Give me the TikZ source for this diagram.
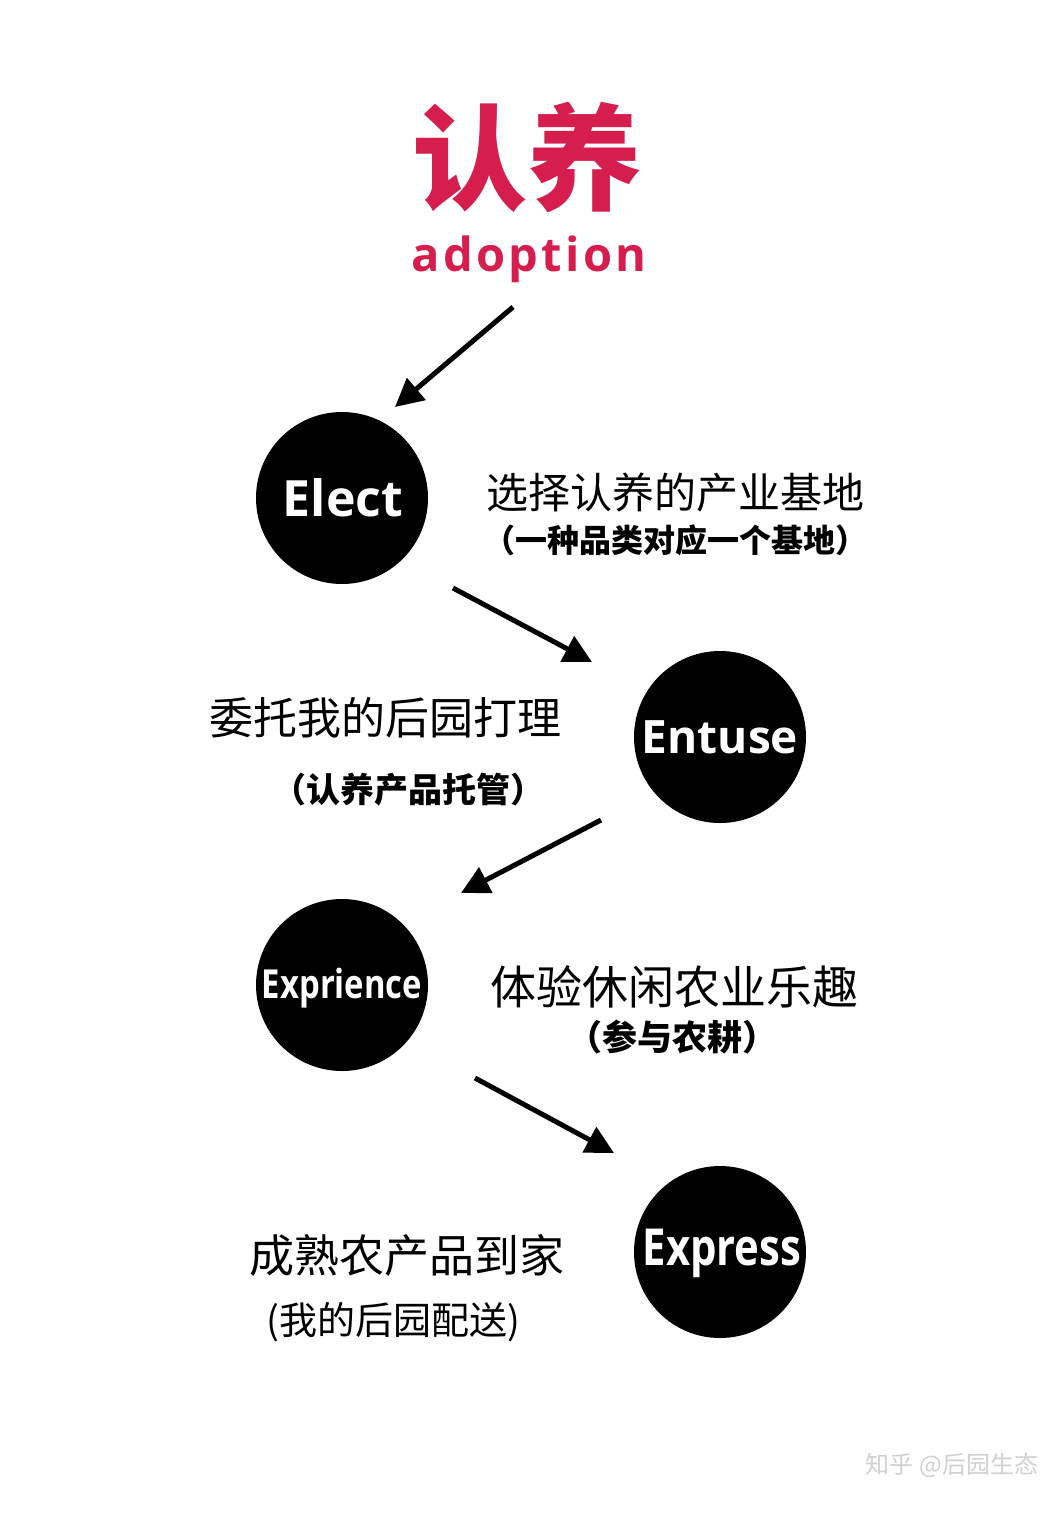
\documentclass[tikz,border=0pt]{standalone}
\usepackage{fontspec}
\usetikzlibrary{arrows.meta}
\newfontfamily\cjk{Noto Sans CJK SC}
\newfontfamily\latinbold{Open Sans}
\newfontfamily\latinspaced[LetterSpace=7]{Open Sans}
\newfontfamily\latincond[FakeStretch=0.82]{Open Sans}
\definecolor{titlered}{RGB}{214,30,78}
\tikzset{
  stepcircle/.style={circle, fill=black, minimum size=172pt, inner sep=0pt},
  circlabel/.style={text=white, font=\latinbold\bfseries\fontsize{#1}{#1}\selectfont},
  circlabelc/.style={text=white, font=\latincond\bfseries\fontsize{#1}{#1}\selectfont},
  mainline/.style={font=\cjk\fontsize{#1}{#1}\selectfont, inner sep=0pt},
  subline/.style={font=\cjk\bfseries\fontsize{#1}{#1}\selectfont, inner sep=0pt},
  flowarrow/.style={line width=5pt, -{Triangle[length=28pt,width=28pt]}},
}
\begin{document}
\begin{tikzpicture}[x=1pt,y=-1pt]
\useasboundingbox (0,0) rectangle (1059,1513);
\fill[white] (0,0) rectangle (1059,1513);
% title
\node[font=\cjk\bfseries\fontsize{115}{115}\selectfont, text=titlered, inner sep=0pt] (title) at (527,158) {认养};
\node[font=\latinspaced\bfseries\fontsize{47}{47}\selectfont, text=titlered, inner sep=0pt, anchor=base] (adopt) at (529,271) {adoption};
% circles
\node[stepcircle] (c1) at (342,498) {};
\node[circlabel=50] (l1) at (343,498) {Elect};
\node[stepcircle] (c2) at (720,737) {};
\node[circlabel=46] (l2) at (720,737) {Entuse};
\node[stepcircle] (c3) at (342,985) {};
\node[circlabelc=40] (l3) at (342,988) {Exprience};
\node[stepcircle] (c4) at (720,1252) {};
\node[circlabelc=51] (l4) at (722,1253) {Express};
% texts
\node[mainline=42] (t1) at (675,493) {选择认养的产业基地};
\node[subline=32] (s1) at (675,540) {（一种品类对应一个基地）};
\node[mainline=44] (t2) at (385,718) {委托我的后园打理};
\node[subline=34] (s2) at (408,790) {（认养产品托管）};
\node[mainline=46] (t3) at (674,987) {体验休闲农业乐趣};
\node[subline=35] (s3) at (672,1037) {（参与农耕）};
\node[mainline=45] (t4) at (407,1255) {成熟农产品到家};
\node[mainline=38] (s4) at (393,1322) {(我的后园配送)};
% watermark
\node[font=\cjk\fontsize{24}{24}\selectfont, text=black!18, inner sep=0pt] (wm) at (952,1465) {知乎 @后园生态};
% arrow endpoints
\coordinate (a1s) at (513,307);
\coordinate (a1e) at (395,407);
\coordinate (a2s) at (453,588);
\coordinate (a2e) at (592,662);
\coordinate (a3s) at (601,820);
\coordinate (a3e) at (461,893);
\coordinate (a4s) at (475,1078);
\coordinate (a4e) at (614,1153);
\draw[flowarrow] (a1s) -- (a1e);
\draw[flowarrow] (a2s) -- (a2e);
\draw[flowarrow] (a3s) -- (a3e);
\draw[flowarrow] (a4s) -- (a4e);
\end{tikzpicture}
\end{document}
